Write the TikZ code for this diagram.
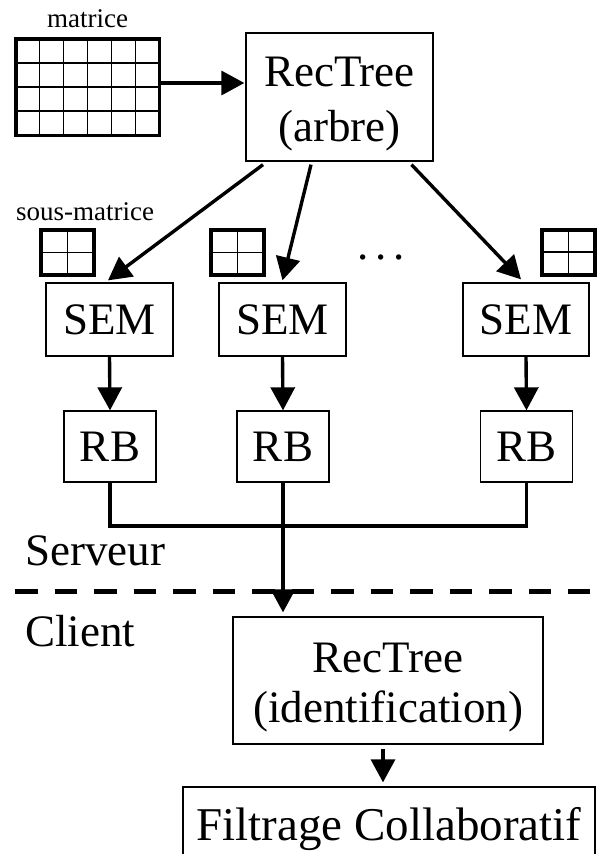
\documentclass[tikz,border=0pt]{standalone}
\usepackage{fontspec}
\setmainfont{Liberation Serif}
\usetikzlibrary{arrows.meta,calc}
\newcommand\grand{\fontsize{45pt}{55pt}\selectfont}
\newcommand\petit{\fontsize{27pt}{32pt}\selectfont}
\tikzset{
	boite/.style={draw, line width=1.3pt, inner sep=0pt, font=\grand, align=center},
	grille/.style={draw, line width=3.5pt, inner sep=0pt, outer sep=0pt},
	fleche/.style={line width=3.4pt, -{Triangle[length=23pt,width=24pt]}},
	lien/.style={line width=3.4pt},
}

\begin{document}
\begin{tikzpicture}[x=1pt, y=-1pt]
			%%%%% START %%%%%
			\useasboundingbox (0,0) rectangle (597,854);
			
			\node[font=\petit, anchor=base, inner sep=0pt] (lmat) at (87.5,27) {matrice};
			\node[grille, minimum width=143.5pt, minimum height=96.5pt] (matrice) at (87.5,87) {};
			\foreach \i in {1,...,5}
				\draw[line width=1.3pt] ($(matrice.north west)!\i/6!(matrice.north east)$) -- ($(matrice.south west)!\i/6!(matrice.south east)$);
			\foreach \i in {1,2,3}
				\draw[line width=1.3pt] ($(matrice.north west)!\i/4!(matrice.south west)$) -- ($(matrice.north east)!\i/4!(matrice.south east)$);
			
			\node[boite, minimum width=187pt, minimum height=128pt] (arbre) at (339.5,97) {\rule{0pt}{43pt}RecTree\\(arbre)};
			\draw[fleche] ([yshift=4pt]matrice.east) -- ([yshift=4pt,xshift=-1pt]matrice.east -| arbre.west);
			
			\node[font=\petit, anchor=base, inner sep=0pt] (lsous) at (85,220) {sous-matrice};
			\foreach \s/\x/\y in {sm1/67.5/252.5, sm2/237.5/252.5, sm3/568.5/252} {
				\node[grille, line width=4pt, minimum width=53pt, minimum height=45pt] (\s) at (\x,\y) {};
				\draw[line width=1.3pt] (\s.north) -- (\s.south) (\s.west) -- (\s.east);
			}
			\node[font=\grand, anchor=base, inner sep=0pt] (points) at (381,259) {.\kern6.75pt.\kern6.75pt.};
			
			\node[boite, minimum width=127pt, minimum height=73pt] (sem1) at (109.5,319.5) {SEM};
			\node[boite, minimum width=127pt, minimum height=73pt] (sem2) at (282.5,319.5) {SEM};
			\node[boite, minimum width=126pt, minimum height=73pt] (sem3) at (526,319.5) {SEM};
			
			\node[boite, minimum width=92pt, minimum height=71pt] (rb1) at (110,446.5) {RB};
			\node[boite, minimum width=92pt, minimum height=71pt] (rb2) at (283,446.5) {RB};
			\node[boite, minimum width=92pt, minimum height=71pt] (rb3) at (526.5,446.5) {RB};
			
			\draw[fleche] ([xshift=-76.5pt,yshift=-3pt]arbre.south) -- ([xshift=-1.5pt,yshift=2pt]sem1.north);
			\draw[fleche] ([xshift=-28.5pt,yshift=-3pt]arbre.south) -- ([yshift=2pt]sem2.north);
			\draw[fleche] ([xshift=72pt,yshift=-3pt]arbre.south) -- ([xshift=-5pt,yshift=3pt]sem3.north);
			\foreach \i in {1,2,3}
				\draw[fleche] (sem\i.south) -- (rb\i.north);
			
			\coordinate (bus) at (0,526);
			\draw[lien] (rb1.south) -- (rb1.south |- bus) -- (rb3.south |- bus) -- (rb3.south);
			
			\node[font=\grand, anchor=base west, inner sep=0pt] (serveur) at (25,565) {Serveur};
			\draw[line width=5pt, dash pattern=on 22.5pt off 17pt] (15,591) -- (590,591);
			\node[font=\grand, anchor=base west, inner sep=0pt] (client) at (25,646.7) {Client};
			
			\node[boite, minimum width=310pt, minimum height=127pt] (ident) at (388,680.5) {\rule{0pt}{43pt}RecTree\\[-5pt](identification)};
			\draw[fleche] (rb2.south) -- ([yshift=4pt]rb2.south |- ident.north);
			
			\node[boite, font=\fontsize{47pt}{55pt}\selectfont, text depth=0pt, minimum width=412pt, minimum height=73pt] (filtrage) at (389,823.5) {Filtrage Collaboratif};
			\draw[fleche] ([xshift=-5pt,yshift=-4pt]ident.south) -- ([xshift=-5pt,yshift=4pt]ident.south |- filtrage.north);
			
			%%%%% END %%%%%
\end{tikzpicture}
\end{document}
